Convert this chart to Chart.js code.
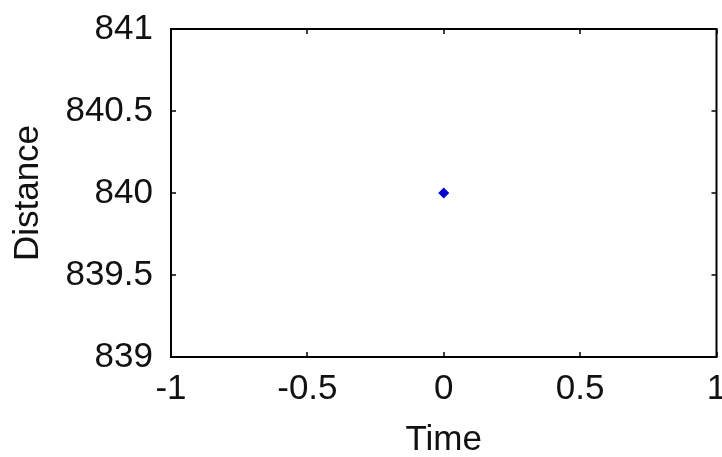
<!DOCTYPE html>
<html>
<head>
<meta charset="utf-8">
<script src="https://cdn.jsdelivr.net/npm/chart.js@4"></script>
<style>
  html, body { margin: 0; padding: 0; background: #fff; }
  #wrap { width: 722px; height: 457px; }
</style>
</head>
<body>
<div id="wrap"><canvas id="myChart" width="722" height="457"></canvas></div>
<script>
// data
const timeValues = [0];
const distanceValues = [840];
const xTickValues = [-1, -0.5, 0, 0.5, 1];
const yTickValues = [839, 839.5, 840, 840.5, 841];

const fontFamily = '"Liberation Sans", Arial, sans-serif';

// matlab style box with ticks pointing inward
const boxPlugin = {
  id: 'box',
  afterDraw(chart) {
    const { ctx, chartArea: a, scales } = chart;
    const len = 5;
    ctx.save();
    ctx.strokeStyle = '#000';
    ctx.lineWidth = 2;
    ctx.strokeRect(a.left, a.top, a.right - a.left, a.bottom - a.top);
    ctx.lineWidth = 1.5;
    ctx.beginPath();
    scales.x.ticks.forEach(t => {
      const px = Math.round(scales.x.getPixelForValue(t.value));
      ctx.moveTo(px, a.bottom); ctx.lineTo(px, a.bottom - len);
      ctx.moveTo(px, a.top); ctx.lineTo(px, a.top + len);
    });
    scales.y.ticks.forEach(t => {
      const py = Math.round(scales.y.getPixelForValue(t.value));
      ctx.moveTo(a.left, py); ctx.lineTo(a.left + len, py);
      ctx.moveTo(a.right, py); ctx.lineTo(a.right - len, py);
    });
    ctx.stroke();
    ctx.restore();
  }
};

const points = timeValues.map((t, i) => ({ x: t, y: distanceValues[i] }));

const config = {
  type: 'scatter',
  data: {
    datasets: [{
      data: points,
      pointStyle: 'rectRot',
      pointRadius: 5.5,
      backgroundColor: '#0000d0',
      borderColor: '#0000d0',
      borderWidth: 0
    }]
  },
  options: {
    responsive: false,
    animation: false,
    layout: { padding: { top: 29, right: 2, left: 0, bottom: 0 } },
    plugins: { legend: { display: false }, tooltip: { enabled: false } },
    scales: {
      x: {
        type: 'linear',
        min: -1,
        max: 1,
        grid: { display: false, drawTicks: false },
        border: { display: false },
        afterBuildTicks: scale => { scale.ticks = xTickValues.map(v => ({ value: v })); },
        afterFit: scale => {
          scale.height = 100;
          scale.paddingLeft = 0;
          scale.paddingRight = 0;
        },
        ticks: {
          color: '#111',
          padding: 11,
          maxRotation: 0,
          autoSkip: false,
          font: { family: fontFamily, size: 35 },
          callback: v => String(v)
        },
        title: {
          display: true,
          text: 'Time',
          color: '#111',
          padding: { top: 0, bottom: -4 },
          font: { family: fontFamily, size: 35 }
        }
      },
      y: {
        type: 'linear',
        min: 839,
        max: 841,
        grid: { display: false, drawTicks: false },
        border: { display: false },
        afterBuildTicks: scale => { scale.ticks = yTickValues.map(v => ({ value: v })); },
        afterFit: scale => {
          scale.width = 171;
          scale.paddingTop = 0;
          scale.paddingBottom = 0;
        },
        ticks: {
          color: '#111',
          padding: 18,
          autoSkip: false,
          font: { family: fontFamily, size: 35 },
          callback: v => String(v)
        },
        title: {
          display: true,
          text: 'Distance',
          color: '#111',
          padding: { top: 7, bottom: 0 },
          font: { family: fontFamily, size: 35 }
        }
      }
    }
  },
  plugins: [boxPlugin]
};

const myChart = new Chart(document.getElementById('myChart'), config);
</script>
</body>
</html>
